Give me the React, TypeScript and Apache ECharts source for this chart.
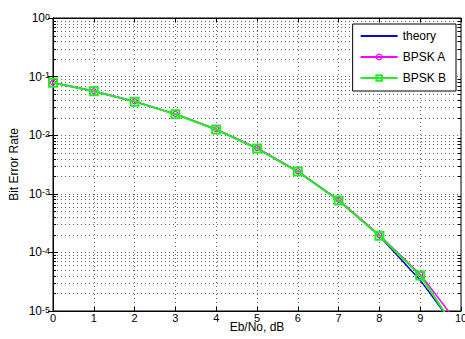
import React, { useEffect, useRef } from 'react';
import * as echarts from 'echarts';

const ebNo = [0, 1, 2, 3, 4, 5, 6, 7, 8, 9, 10];
const theory = [0.0786, 0.0563, 0.0375, 0.0229, 0.0125, 0.00595, 0.00239, 0.000773, 0.000191, 0.0000336, 0.00000387];
const bpskA = [0.079, 0.0566, 0.0378, 0.0231, 0.0127, 0.00605, 0.00244, 0.00079, 0.000197, 0.0000425, 0.0000052];
const bpskB = [0.0788, 0.0562, 0.0374, 0.0228, 0.0125, 0.00592, 0.0024, 0.000772, 0.000192, 0.0000405, 0.0000036];
const legendNames = ['theory', 'BPSK A', 'BPSK B'];
const minorValues: number[] = [
  2e-5, 3e-5, 4e-5, 5e-5, 6e-5, 7e-5, 8e-5, 9e-5,
  2e-4, 3e-4, 4e-4, 5e-4, 6e-4, 7e-4, 8e-4, 9e-4,
  2e-3, 3e-3, 4e-3, 5e-3, 6e-3, 7e-3, 8e-3, 9e-3,
  2e-2, 3e-2, 4e-2, 5e-2, 6e-2, 7e-2, 8e-2, 9e-2,
  2e-1, 3e-1, 4e-1, 5e-1, 6e-1, 7e-1, 8e-1, 9e-1,
];

const FONT = '"Liberation Sans", Arial, sans-serif';
const GRID_DOT = '#666';
const BLUE = '#0a0ad0';
const MAGENTA = '#ff00ff';
const GREEN = '#22ee22';
const CLEAR = 'rgba(0,0,0,0)';

export default function App() {
  const ref = useRef<HTMLDivElement>(null);
  useEffect(() => {
    if (!ref.current) return;
    const chart = echarts.init(ref.current, undefined, { renderer: 'svg' });
    const zip = (arr: number[]) => ebNo.map((x, i) => [x, arr[i]]);
    chart.setOption({
      animation: false,
      backgroundColor: '#fff',
      textStyle: { fontFamily: FONT },
      grid: {
        left: 53, right: 4, top: 18, bottom: 28, containLabel: false, outerBoundsMode: 'none',
        show: true, borderColor: '#000', borderWidth: 1, backgroundColor: '#fff',
      },
      legend: {
        data: [
          { name: legendNames[0], itemStyle: { opacity: 0 } },
          { name: legendNames[1], itemStyle: { color: CLEAR, borderColor: MAGENTA, borderWidth: 1.2 } },
          { name: legendNames[2], itemStyle: { color: CLEAR, borderColor: GREEN, borderWidth: 2 } },
        ],
        orient: 'vertical',
        right: 9,
        top: 24,
        backgroundColor: '#fff',
        borderColor: '#000',
        borderWidth: 1,
        borderRadius: 0,
        padding: [6, 10, 7, 7],
        itemWidth: 37,
        itemHeight: 7,
        itemGap: 9,
        textStyle: { fontSize: 12, color: '#000', fontFamily: FONT },
      },
      xAxis: [
        {
          type: 'value', min: 0, max: 10, interval: 1,
          name: 'Eb/No, dB', nameLocation: 'middle', nameGap: 10, nameMoveOverlap: false,
          nameTextStyle: { fontSize: 12, color: '#000', fontFamily: FONT, verticalAlign: 'top' },
          axisLine: { show: true, lineStyle: { color: '#000', width: 1 } },
          axisTick: { show: true, inside: true, length: 4, lineStyle: { color: '#000' } },
          axisLabel: { fontSize: 11, color: '#000', margin: 1, fontFamily: FONT },
          splitLine: { show: true, lineStyle: { color: GRID_DOT, width: 1, type: [1, 3] } },
        },
        {
          type: 'value', min: 0, max: 10, interval: 1, position: 'top',
          axisLine: { show: true, lineStyle: { color: '#000', width: 1 } },
          axisTick: { show: true, inside: true, length: 4, lineStyle: { color: '#000' } },
          axisLabel: { show: false },
          splitLine: { show: false },
        },
      ],
      yAxis: [
        {
          type: 'log', logBase: 10, min: 1e-5, max: 1,
          name: 'Bit Error Rate', nameLocation: 'middle', nameGap: 33, nameMoveOverlap: false,
          nameTextStyle: { fontSize: 12, color: '#000', fontFamily: FONT },
          axisLine: { show: true, lineStyle: { color: '#000', width: 1 } },
          axisTick: { show: true, inside: true, length: 5, lineStyle: { color: '#000' } },
          axisLabel: {
            color: '#000', margin: 3, fontFamily: FONT, fontSize: 12,
            formatter: (v: number) => '{b|10}{s|' + Math.round(Math.log10(v)) + '}',
            rich: {
              b: { fontSize: 12, lineHeight: 12, verticalAlign: 'bottom', padding: [5, 0, 0, 0], color: '#000', fontFamily: FONT },
              s: { fontSize: 9, lineHeight: 10, verticalAlign: 'top', color: '#000', fontFamily: FONT },
            },
          },
          splitLine: { show: true, lineStyle: { color: GRID_DOT, width: 1, type: [1, 3] } },
        },
        {
          type: 'log', logBase: 10, min: 1e-5, max: 1, position: 'right',
          axisLine: { show: true, lineStyle: { color: '#000', width: 1 } },
          axisTick: { show: true, inside: true, length: 5, lineStyle: { color: '#000' } },
          axisLabel: { show: false },
          splitLine: { show: false },
        },
      ],
      series: [
        {
          type: 'custom',
          name: 'minor',
          silent: true,
          xAxisIndex: 0,
          yAxisIndex: 0,
          data: minorValues.map((v) => [0, v]),
          encode: { x: 0, y: 1 },
          z: 1,
          renderItem: (params: any, api: any) => {
            const v = api.value(1);
            const pL = api.coord([0, v]);
            const pR = api.coord([10, v]);
            const y = Math.round(pL[1]) + 0.5;
            return {
              type: 'group',
              children: [
                { type: 'line', shape: { x1: pL[0], y1: y, x2: pR[0], y2: y }, style: { stroke: GRID_DOT, lineWidth: 1, lineDash: [1, 3] } },
                { type: 'line', shape: { x1: pL[0], y1: y, x2: pL[0] + 3, y2: y }, style: { stroke: '#000', lineWidth: 1 } },
                { type: 'line', shape: { x1: pR[0] - 3, y1: y, x2: pR[0], y2: y }, style: { stroke: '#000', lineWidth: 1 } },
              ],
            };
          },
        },
        {
          type: 'line', name: 'theory', data: zip(theory), symbol: 'none', clip: true, z: 3,
          lineStyle: { color: BLUE, width: 1.5 }, itemStyle: { color: BLUE },
        },
        {
          type: 'line', name: 'BPSK A', data: zip(bpskA), symbol: 'circle', symbolSize: 5, clip: true, z: 4,
          lineStyle: { color: MAGENTA, width: 1.5 },
          itemStyle: { color: CLEAR, borderColor: MAGENTA, borderWidth: 1.2 },
        },
        {
          type: 'line', name: 'BPSK B', data: zip(bpskB), symbol: 'rect', symbolSize: 8, clip: true, z: 5,
          lineStyle: { color: GREEN, width: 2 },
          itemStyle: { color: CLEAR, borderColor: GREEN, borderWidth: 2 },
        },
      ],
    });
    return () => chart.dispose();
  }, []);
  return <div ref={ref} style={{ position: 'fixed', left: 0, top: 0, width: 465, height: 339 }} />;
}
